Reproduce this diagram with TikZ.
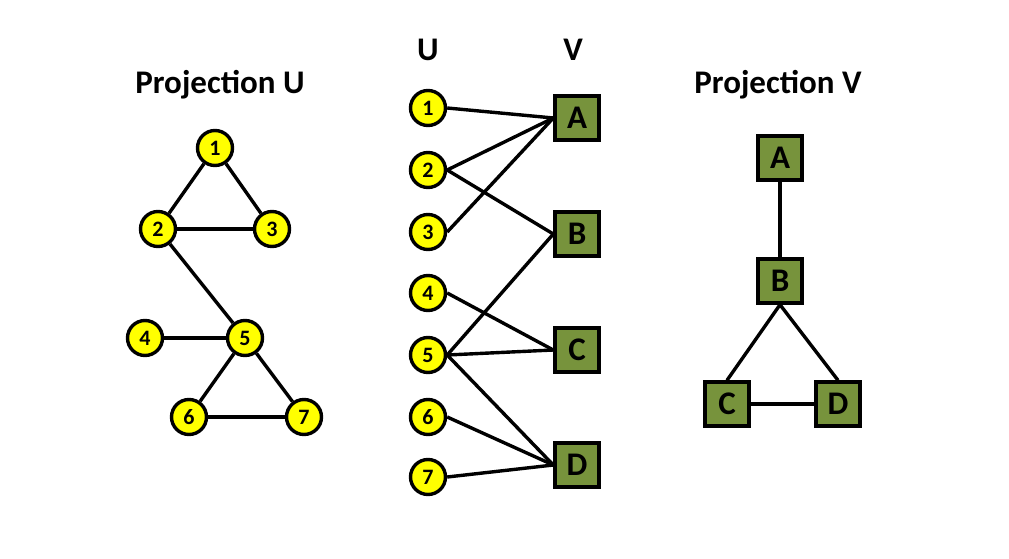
\documentclass[tikz,border=0pt]{standalone}
\usepackage{fontspec}
\setmainfont{Carlito}
\definecolor{nodeyellow}{HTML}{FFFF00}
\definecolor{boxgreen}{HTML}{77933C}
\begin{document}
\begin{tikzpicture}[x=1pt,y=-1pt,
  unode/.style={circle,draw=black,line width=3.4pt,fill=nodeyellow,minimum size=35pt,inner sep=0pt,font=\fontsize{22}{22}\selectfont\bfseries},
  vnode/.style={rectangle,draw=black,line width=3.4pt,fill=boxgreen,minimum size=44pt,inner sep=0pt,font=\fontsize{33}{33}\selectfont\bfseries},
  edge/.style={line width=3.4pt,black},
  title/.style={font=\fontsize{33}{33}\selectfont\bfseries}]
\useasboundingbox (0,0) rectangle (1009,559);
% titles
\node[title] (tU) at (220,85) {Projection U};
\node[title] (tV) at (778,85) {Projection V};
\node[title] (hU) at (428,50) {U};
\node[title] (hV) at (573,50) {V};
% Projection U
\begin{scope}[every node/.style={unode}]
\node (p1) at (215,148) {1};
\node (p2) at (158,229) {2};
\node (p3) at (272,229) {3};
\node (p4) at (145,338) {4};
\node (p5) at (245,338) {5};
\node (p6) at (189,417) {6};
\node (p7) at (304,417) {7};
\end{scope}
\begin{scope}[on background layer/.style={}]
\end{scope}
\draw[edge] (p1) -- (p2);
\draw[edge] (p1) -- (p3);
\draw[edge] (p2) -- (p3);
\draw[edge] (p2) -- (p5);
\draw[edge] (p4) -- (p5);
\draw[edge] (p5) -- (p6);
\draw[edge] (p5) -- (p7);
\draw[edge] (p6) -- (p7);
% Bipartite
\begin{scope}[every node/.style={unode}]
\node (u1) at (428,108) {1};
\node (u2) at (428,170) {2};
\node (u3) at (428,232) {3};
\node (u4) at (428,293) {4};
\node (u5) at (428,355) {5};
\node (u6) at (428,417) {6};
\node (u7) at (428,477) {7};
\end{scope}
\begin{scope}[every node/.style={vnode}]
\node (A) at (577,118) {A};
\node (B) at (577,234) {B};
\node (C) at (577,350) {C};
\node (D) at (577,465) {D};
\end{scope}
\draw[edge] (u1.east) -- (A.west);
\draw[edge] (u2.east) -- (A.west);
\draw[edge] (u3.east) -- (A.west);
\draw[edge] (u2.east) -- (B.west);
\draw[edge] (u5.east) -- (B.west);
\draw[edge] (u4.east) -- (C.west);
\draw[edge] (u5.east) -- (C.west);
\draw[edge] (u5.east) -- (D.west);
\draw[edge] (u6.east) -- (D.west);
\draw[edge] (u7.east) -- (D.west);
% Projection V
\begin{scope}[every node/.style={vnode}]
\node (qA) at (780,158) {A};
\node (qB) at (780,281) {B};
\node (qC) at (727,404) {C};
\node (qD) at (838,404) {D};
\end{scope}
\draw[edge] (qA) -- (qB);
\draw[edge] (qB.south) -- (qC.north);
\draw[edge] (qB.south) -- (qD.north);
\draw[edge] (qC) -- (qD);
\end{tikzpicture}
\end{document}
